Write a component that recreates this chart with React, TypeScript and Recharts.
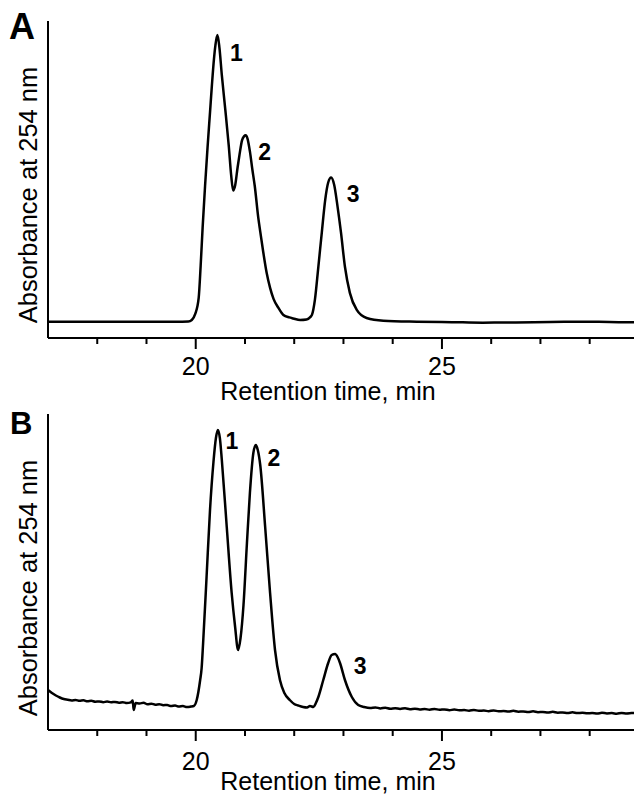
import React from 'react';
import { LineChart, Line, XAxis, YAxis, ReferenceDot } from 'recharts';

// ---------- Data ----------
// Panel A: retention time (min) and detector signal (arbitrary units)
const timesA = [17.0, 18.0, 19.0, 19.6, 19.85, 19.92, 19.99, 20.06, 20.1, 20.14, 20.19, 20.24, 20.29, 20.33, 20.37, 20.4, 20.44, 20.48, 20.53, 20.6, 20.67, 20.72, 20.76, 20.8, 20.85, 20.89, 20.94, 20.98, 21.015, 21.05, 21.1, 21.15, 21.2, 21.27, 21.31, 21.37, 21.44, 21.51, 21.58, 21.68, 21.78, 21.9, 21.98, 22.12, 22.25, 22.33, 22.36, 22.42, 22.49, 22.56, 22.63, 22.69, 22.75, 22.81, 22.88, 22.95, 23.03, 23.13, 23.27, 23.47, 23.81, 24.49, 25.2, 25.83, 26.5, 27.2, 27.86, 28.4, 28.9];
const signalA = [16.3, 16.3, 16.3, 16.3, 16.5, 18, 24, 40, 72, 110, 152, 190, 225, 253, 278, 292, 302, 290, 262, 228, 192, 162, 147, 152, 170, 183, 197, 201, 202, 199, 186, 168, 151, 120, 106, 86, 65, 50, 39, 30, 23, 20.5, 19.5, 18, 18.5, 21, 23, 38, 71, 105, 138, 155, 160, 153, 131, 105, 71, 45, 28, 20, 17.3, 16.3, 15.8, 15.3, 15.5, 16, 16.3, 15.9, 15.7];

// Panel B
const timesB = [17.0, 17.08, 17.16, 17.24, 17.32, 17.4, 17.48, 17.56, 17.64, 17.72, 17.8, 17.88, 17.96, 18.04, 18.12, 18.2, 18.28, 18.36, 18.44, 18.52, 18.6, 18.68, 18.72, 18.74, 18.78, 18.86, 18.94, 19.02, 19.1, 19.18, 19.26, 19.34, 19.42, 19.5, 19.58, 19.66, 19.74, 19.82, 19.9, 19.96, 20.02, 20.09, 20.12, 20.15, 20.22, 20.29, 20.36, 20.41, 20.45, 20.49, 20.53, 20.63, 20.73, 20.8, 20.86, 20.91, 20.97, 21.04, 21.1, 21.17, 21.22, 21.26, 21.31, 21.41, 21.51, 21.61, 21.71, 21.8, 21.91, 22.0, 22.08, 22.18, 22.26, 22.32, 22.39, 22.44, 22.49, 22.59, 22.69, 22.76, 22.83, 22.88, 22.93, 23.03, 23.17, 23.3, 23.42, 23.54, 23.65, 23.75, 23.85, 23.95, 24.05, 24.15, 24.25, 24.35, 24.45, 24.55, 24.65, 24.75, 24.85, 24.95, 25.05, 25.15, 25.25, 25.35, 25.45, 25.55, 25.65, 25.75, 25.85, 25.95, 26.05, 26.15, 26.25, 26.35, 26.45, 26.55, 26.65, 26.75, 26.85, 26.95, 27.05, 27.15, 27.25, 27.35, 27.45, 27.55, 27.65, 27.75, 27.85, 27.95, 28.05, 28.15, 28.25, 28.35, 28.45, 28.55, 28.65, 28.75, 28.85, 28.9];
const signalB = [40, 37, 34.5, 32.5, 31, 30.3, 29.6, 30.1, 29.2, 29.7, 28.7, 29.2, 28.3, 28.6, 27.8, 28.5, 27.7, 28.1, 27.3, 27.8, 26.9, 27.6, 29.5, 20, 27, 26.6, 27.2, 25.8, 26.3, 25.3, 25.8, 24.8, 25, 23.9, 24.4, 23.4, 23.9, 22.9, 23.4, 24, 30, 50, 62, 87, 153, 220, 268, 292, 300, 292, 270, 203, 137, 103, 80, 92, 125, 187, 237, 277, 285, 280, 265, 203, 137, 80, 50, 37, 30, 26, 24.5, 23, 22.5, 24, 23, 27, 33, 50, 67, 75, 76, 73, 67, 50, 33, 25, 23, 22, 22.6, 21.6, 22.3, 21.3, 21.8, 21.1, 21.7, 20.8, 21.3, 20.6, 21, 20.3, 21.1, 20.2, 20.6, 19.8, 20.5, 19.7, 20, 19.3, 20.1, 19.2, 19.5, 18.8, 19.6, 18.7, 19, 18.4, 19.2, 18.3, 18.6, 17.9, 18.7, 17.8, 18.1, 17.4, 18.2, 17.3, 17.5, 16.9, 17.7, 16.9, 17.3, 16.7, 17, 16.4, 17.2, 16.6, 16.9, 16.3, 17.1, 16.6, 16.9, 17];

// Axis ticks (min) and labelled ticks
const xTicks = [18, 19, 20, 21, 22, 23, 24, 25, 26, 27, 28];
const xTickLabels = [20, 25];

// Peak labels
const peakNames = ['1', '2', '3'];
const peakTimesA = [20.44, 21.015, 22.75];
const peakHeightsA = [302, 202, 160];
const peakTimesB = [20.45, 21.22, 22.83];
const peakHeightsB = [300, 285, 76];

const panelLetters = ['A', 'B'];
const xTitle = 'Retention time, min';
const yTitle = 'Absorbance at 254 nm';

const dataA = timesA.map((t, i) => ({ t, v: signalA[i] }));
const dataB = timesB.map((t, i) => ({ t, v: signalB[i] }));

const FONT = '"Liberation Sans", Arial, Helvetica, sans-serif';

const makeTick = (labelBaseline: number) => (props: any) => {
  const { x, y, payload } = props;
  const major = xTickLabels.includes(payload.value);
  return (
    <g>
      <line x1={x} x2={x} y1={y} y2={y + (major ? 11 : 6)} stroke="#000" strokeWidth={2} />
      {major && (
        <text x={x} y={y + labelBaseline} textAnchor="middle" fontFamily={FONT} fontSize={25} fill="#000">
          {payload.value}
        </text>
      )}
    </g>
  );
};

const peakLabel = (text: string, dx: number, dy: number) => (props: any) => {
  const vb = props.viewBox || {};
  const cx = (vb.x ?? 0) + (vb.width ?? 0) / 2;
  const cy = (vb.y ?? 0) + (vb.height ?? 0) / 2;
  return (
    <text x={cx + dx} y={cy + dy} textAnchor="middle" dominantBaseline="central" fontFamily={FONT} fontWeight="bold" fontSize={23} fill="#000">
      {text}
    </text>
  );
};

type PanelProps = {
  data: { t: number; v: number }[];
  height: number;
  marginTop: number;
  axisHeight: number;
  letter: string;
  letterSize: number;
  letterX: number;
  letterY: number;
  tickBaseline: number;
  xTitleY: number;
  yTitleCenter: number;
  peakTimes: number[];
  peakHeights: number[];
  peakOffsets: [number, number][];
};

function Panel(p: PanelProps) {
  return (
    <LineChart
      width={634}
      height={p.height}
      data={p.data}
      margin={{ top: p.marginTop, right: 0, bottom: 0, left: 0 }}
    >
      <XAxis
        dataKey="t"
        type="number"
        domain={[17, 28.9]}
        allowDataOverflow
        ticks={xTicks}
        interval={0}
        height={p.axisHeight}
        tickSize={0}
        tickMargin={0}
        tickLine={false}
        axisLine={{ stroke: '#000', strokeWidth: 2 }}
        tick={makeTick(p.tickBaseline)}
        label={{
          content: () => (
            <text x={328} y={p.xTitleY} textAnchor="middle" fontFamily={FONT} fontSize={25} fill="#000">
              {xTitle}
            </text>
          ),
        }}
      />
      <YAxis
        type="number"
        domain={[0, 316]}
        allowDataOverflow
        width={48}
        tick={false}
        tickLine={false}
        axisLine={{ stroke: '#000', strokeWidth: 2 }}
        label={{
          content: () => (
            <g>
              <text
                x={36.5}
                y={p.yTitleCenter}
                transform={`rotate(-90, 36.5, ${p.yTitleCenter})`}
                textAnchor="middle"
                fontFamily={FONT}
                fontSize={25.5}
                fill="#000"
              >
                {yTitle}
              </text>
              <text x={p.letterX} y={p.letterY} fontFamily={FONT} fontWeight="bold" fontSize={p.letterSize} fill="#000">
                {p.letter}
              </text>
            </g>
          ),
        }}
      />
      <Line
        dataKey="v"
        type="monotone"
        stroke="#000"
        strokeWidth={2.5}
        dot={false}
        activeDot={false}
        isAnimationActive={false}
      />
      {peakNames.map((name, i) => (
        <ReferenceDot
          key={name}
          x={p.peakTimes[i]}
          y={p.peakHeights[i]}
          r={0}
          fill="none"
          stroke="none"
          label={{ content: peakLabel(name, p.peakOffsets[i][0], p.peakOffsets[i][1]) }}
        />
      ))}
    </LineChart>
  );
}

export default function App() {
  return (
    <div style={{ position: 'absolute', left: 0, top: 0, width: 634, height: 794, background: '#fff' }}>
      <div style={{ position: 'absolute', left: 0, top: 0 }}>
        <Panel
          data={dataA}
          height={405}
          marginTop={21}
          axisHeight={67}
          letter={panelLetters[0]}
          letterSize={36}
          letterX={9}
          letterY={39}
          tickBaseline={37}
          xTitleY={400}
          yTitleCenter={195}
          peakTimes={peakTimesA}
          peakHeights={peakHeightsA}
          peakOffsets={[[19, 18], [19, 16.5], [22, 17]]}
        />
      </div>
      <div style={{ position: 'absolute', left: 0, top: 405 }}>
        <Panel
          data={dataB}
          height={389}
          marginTop={9}
          axisHeight={64}
          letter={panelLetters[1]}
          letterSize={31}
          letterX={10}
          letterY={29}
          tickBaseline={40}
          xTitleY={385}
          yTitleCenter={183}
          peakTimes={peakTimesB}
          peakHeights={peakHeightsB}
          peakOffsets={[[14, 11], [18, 12.5], [25, 11.5]]}
        />
      </div>
    </div>
  );
}
